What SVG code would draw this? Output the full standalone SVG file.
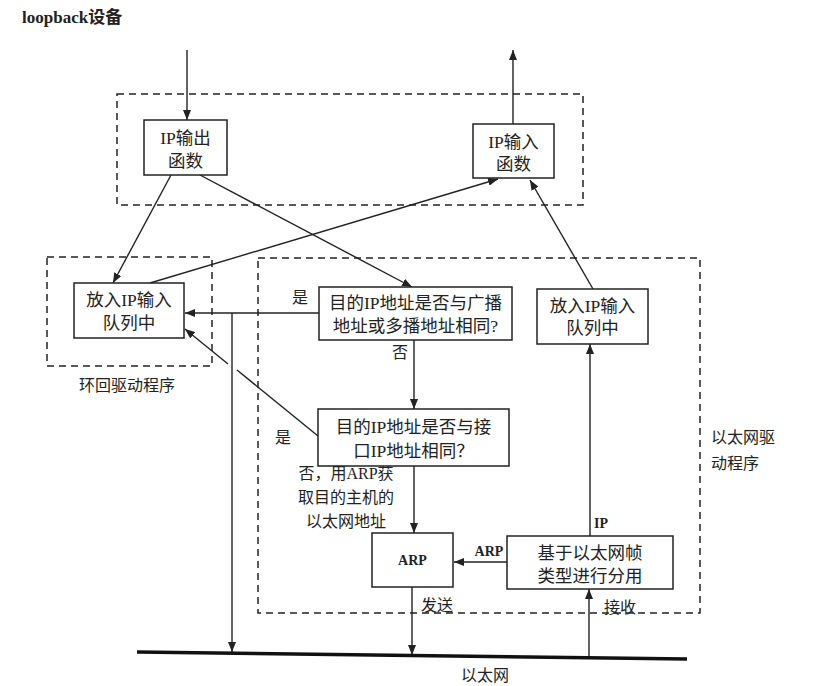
<svg xmlns="http://www.w3.org/2000/svg" width="838" height="686" viewBox="0 0 838 686">
<style>
.t{font-family:"Liberation Serif","Noto Sans CJK SC",serif;font-size:17.5px;fill:#222;text-anchor:middle}
.b{font-weight:bold;font-size:14px}
.box{fill:#fff;stroke:#222;stroke-width:1.5}
.dash{fill:none;stroke:#222;stroke-width:1.5;stroke-dasharray:7,5}
.c{fill:none;stroke:#222;stroke-width:1.4}
</style>
<defs>
<marker id="ah" viewBox="0 0 10 8" refX="10" refY="4" markerWidth="10" markerHeight="8" markerUnits="userSpaceOnUse" orient="auto">
<path d="M0,0L10,4L0,8Z" fill="#222"/>
</marker>
</defs>
<rect width="838" height="686" fill="#fff"/>
<text x="22" y="23" class="t" style="text-anchor:start;font-weight:bold;font-size:17px">loopback设备</text>

<g id="groups">
<rect class="dash" x="117" y="94" width="466" height="111"/>
<rect class="dash" x="47" y="257" width="165" height="109"/>
<rect class="dash" x="258" y="258" width="442" height="355"/>
<text class="t" x="127" y="391" style="font-size:16px">环回驱动程序</text>
<text class="t" x="711" y="443" style="font-size:16px;text-anchor:start">以太网驱</text>
<text class="t" x="711" y="469" style="font-size:16px;text-anchor:start">动程序</text>
</g>

<g id="connectors">
<line class="c" x1="187" y1="50" x2="187" y2="120" marker-end="url(#ah)"/>
<line class="c" x1="513" y1="124" x2="513" y2="50" marker-end="url(#ah)"/>
<line class="c" x1="171" y1="175" x2="113" y2="283" marker-end="url(#ah)"/>
<line class="c" x1="200" y1="175" x2="412" y2="287" marker-end="url(#ah)"/>
<line class="c" x1="150" y1="283" x2="498" y2="179" marker-end="url(#ah)"/>
<line class="c" x1="593" y1="289" x2="530" y2="180" marker-end="url(#ah)"/>
<line class="c" x1="319" y1="313" x2="185" y2="313" marker-end="url(#ah)"/>
<line class="c" x1="232" y1="313" x2="232" y2="652" marker-end="url(#ah)"/>
<line class="c" x1="414" y1="340" x2="414" y2="409" marker-end="url(#ah)"/>
<line class="c" x1="228" y1="364" x2="185" y2="329" marker-end="url(#ah)"/>
<line class="c" x1="318" y1="436" x2="237" y2="370"/>
<line class="c" x1="414" y1="466" x2="414" y2="533" marker-end="url(#ah)"/>
<line class="c" x1="507" y1="562" x2="454" y2="562" marker-end="url(#ah)"/>
<line class="c" x1="590" y1="536" x2="590" y2="344" marker-end="url(#ah)"/>
<line class="c" x1="412" y1="587" x2="412" y2="655" marker-end="url(#ah)"/>
<line class="c" x1="589" y1="657" x2="589" y2="589" marker-end="url(#ah)"/>
<line x1="137" y1="652" x2="687" y2="659" stroke="#111" stroke-width="3.5"/>
<text class="t" x="300" y="303" style="font-size:16px">是</text>
<text class="t" x="400" y="358" style="font-size:16px">否</text>
<text class="t" x="283" y="443" style="font-size:16px">是</text>
<text class="t" x="346" y="479" style="font-size:16px">否，用ARP获</text>
<text class="t" x="346" y="503" style="font-size:16px">取目的主机的</text>
<text class="t" x="346" y="527" style="font-size:16px">以太网地址</text>
<text class="t b" x="489" y="556">ARP</text>
<text class="t b" x="601" y="528">IP</text>
<text class="t" x="437" y="611" style="font-size:16px">发送</text>
<text class="t" x="620" y="613" style="font-size:16px">接收</text>
<text class="t" x="485" y="681" style="font-size:16px">以太网</text>
</g>

<g id="ip-output">
<rect class="box" x="144" y="120" width="83" height="55"/>
<text class="t" x="185.5" y="144">IP输出</text>
<text class="t" x="185.5" y="167">函数</text>
</g>
<g id="ip-input">
<rect class="box" x="473" y="124" width="81" height="54"/>
<text class="t" x="513.5" y="148">IP输入</text>
<text class="t" x="513.5" y="170">函数</text>
</g>
<g id="loop-queue">
<rect class="box" x="74" y="283" width="110" height="55"/>
<text class="t" x="129" y="306">放入IP输入</text>
<text class="t" x="129" y="329">队列中</text>
</g>
<g id="bcast-check">
<rect class="box" x="319" y="287" width="193" height="53"/>
<text class="t" x="415.5" y="309">目的IP地址是否与广播</text>
<text class="t" x="415.5" y="332">地址或多播地址相同?</text>
</g>
<g id="eth-queue">
<rect class="box" x="537" y="289" width="111" height="55"/>
<text class="t" x="592.5" y="312">放入IP输入</text>
<text class="t" x="592.5" y="334">队列中</text>
</g>
<g id="iface-check">
<rect class="box" x="318" y="409" width="191" height="57"/>
<text class="t" x="413.5" y="433">目的IP地址是否与接</text>
<text class="t" x="413.5" y="457">口IP地址相同？</text>
</g>
<g id="arp">
<rect class="box" x="372" y="533" width="81" height="54"/>
<text class="t b" x="412.5" y="565">ARP</text>
</g>
<g id="demux">
<rect class="box" x="507" y="536" width="166" height="53"/>
<text class="t" x="590" y="559">基于以太网帧</text>
<text class="t" x="590" y="582">类型进行分用</text>
</g>
</svg>
